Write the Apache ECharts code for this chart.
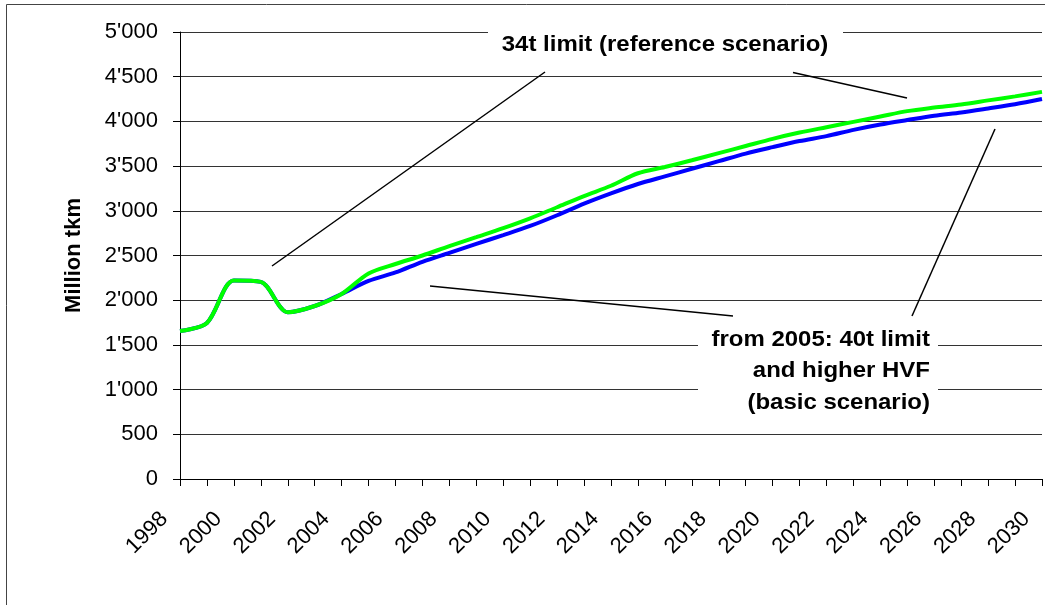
<!DOCTYPE html>
<html>
<head>
<meta charset="utf-8">
<script src="https://cdn.jsdelivr.net/npm/echarts@6/dist/echarts.min.js"></script>
<style>
html,body{margin:0;padding:0;background:#fff;}
#chart{width:1045px;height:605px;}
</style>
</head>
<body>
<div id="chart"></div>
<script>
const years = ['1998','1999','2000','2001','2002','2003','2004','2005','2006','2007','2008','2009','2010','2011','2012','2013','2014','2015','2016','2017','2018','2019','2020','2021','2022','2023','2024','2025','2026','2027','2028','2029','2030'];
const limit34 = [1655,1745,2220,2205,1865,1935,2070,2300,2405,2500,2605,2705,2805,2915,3040,3165,3280,3420,3490,3565,3645,3725,3805,3875,3935,3995,4055,4115,4155,4190,4235,4280,4330];
const limit40 = [1655,1745,2220,2205,1865,1935,2070,2215,2310,2430,2530,2630,2728,2830,2950,3080,3195,3300,3385,3470,3555,3640,3712,3780,3835,3905,3965,4015,4063,4100,4145,4192,4250];
const yTicks = {min:0, max:5000, step:500};
const yName = 'Million tkm';
const note34 = '34t limit (reference scenario)';
const note40 = ['from 2005: 40t limit','and higher HVF','(basic scenario)'];

const FONT = '"Liberation Sans", Arial, sans-serif';
const chart = echarts.init(document.getElementById('chart'));
function fmt(v){
  const s = String(v);
  return s.length > 3 ? s.slice(0, s.length-3) + "'" + s.slice(-3) : s;
}
const option = {
  animation:false,
  backgroundColor:'#fff',
  grid:{left:180, right:3, top:32, bottom:126, containLabel:false},
  xAxis:{
    type:'category', data:years, boundaryGap:false,
    axisLine:{lineStyle:{color:'#000', width:1}},
    axisTick:{show:true, interval:0, length:7, lineStyle:{color:'#000'}},
    axisLabel:{interval:1, rotate:45, margin:21, padding:[0,22,0,0], color:'#000', fontSize:22, fontFamily:FONT},
    splitLine:{show:false}
  },
  yAxis:{
    type:'value', min:yTicks.min, max:yTicks.max, interval:yTicks.step,
    name:yName, nameLocation:'middle', nameGap:95,
    nameTextStyle:{fontSize:22, fontWeight:'bold', color:'#000', fontFamily:FONT},
    axisLine:{show:true, lineStyle:{color:'#000', width:1}},
    axisTick:{show:true, length:7, lineStyle:{color:'#000'}},
    axisLabel:{margin:22, color:'#000', fontSize:22, fontFamily:FONT, formatter:fmt},
    splitLine:{show:true, lineStyle:{color:'#333', width:1}}
  },
  series:[
    {name:'40t', type:'line', data:limit40, smooth:0.3, showSymbol:false, symbol:'none',
     lineStyle:{color:'#0000ff', width:4}, z:2},
    {name:'34t', type:'line', data:limit34, smooth:0.3, showSymbol:false, symbol:'none',
     lineStyle:{color:'#00ff00', width:4}, z:3}
  ],
  graphic:[
    {type:'rect', shape:{x:6.5, y:4.5, width:1100, height:700}, style:{fill:null, stroke:'#444', lineWidth:1}, z:0, silent:true},
    {type:'rect', shape:{x:488, y:24, width:355, height:44}, style:{fill:'#fff'}, z:50},
    {type:'text', x:665, y:45, scaleX:1.09, style:{text:note34, font:'bold 22px '+FONT, fill:'#000', textAlign:'center', textVerticalAlign:'middle'}, z:51},
    {type:'rect', shape:{x:698, y:322, width:240, height:98}, style:{fill:'#fff'}, z:50},
    {type:'text', x:930, y:339.5, scaleX:1.09, style:{text:note40[0], font:'bold 22px '+FONT, fill:'#000', textAlign:'right', textVerticalAlign:'middle'}, z:51},
    {type:'text', x:930, y:371, scaleX:1.09, style:{text:note40[1], font:'bold 22px '+FONT, fill:'#000', textAlign:'right', textVerticalAlign:'middle'}, z:51},
    {type:'text', x:930, y:402.5, scaleX:1.09, style:{text:note40[2], font:'bold 22px '+FONT, fill:'#000', textAlign:'right', textVerticalAlign:'middle'}, z:51},
    {type:'line', shape:{x1:272, y1:266, x2:545, y2:72}, style:{stroke:'#000', lineWidth:1.5}, z:52},
    {type:'line', shape:{x1:793, y1:72.5, x2:907, y2:98}, style:{stroke:'#000', lineWidth:1.5}, z:52},
    {type:'line', shape:{x1:430, y1:286, x2:733, y2:316}, style:{stroke:'#000', lineWidth:1.5}, z:52},
    {type:'line', shape:{x1:995, y1:129, x2:912, y2:316}, style:{stroke:'#000', lineWidth:1.5}, z:52}
  ]
};
chart.setOption(option);
</script>
</body>
</html>
